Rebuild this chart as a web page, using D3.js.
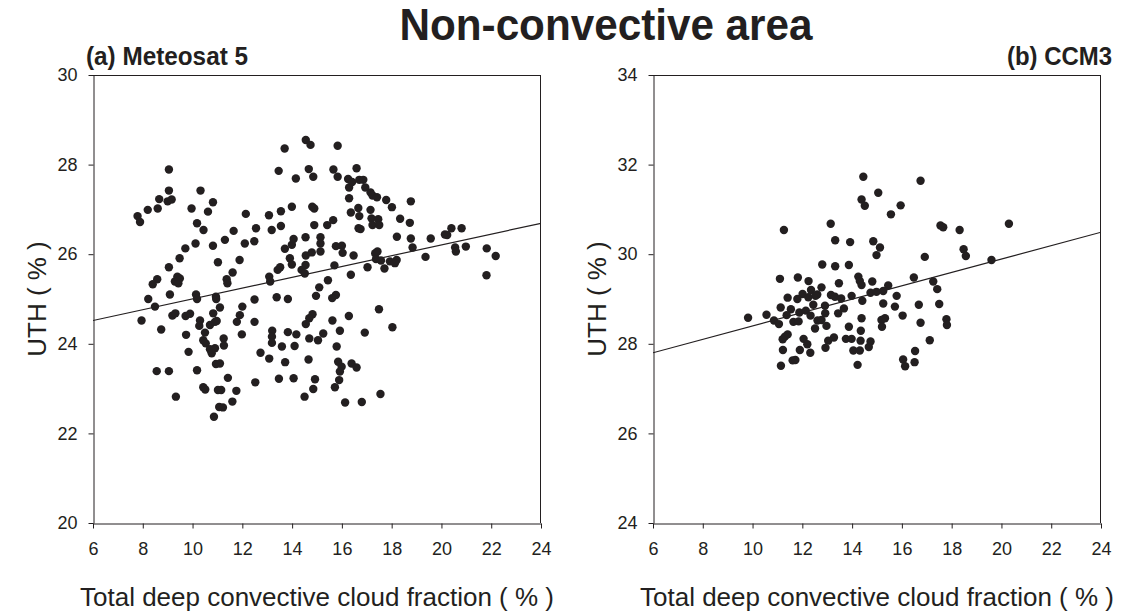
<!DOCTYPE html>
<html><head><meta charset="utf-8">
<script src="https://cdn.jsdelivr.net/npm/d3@7"></script>
<style>
body{margin:0;background:#fff}
text{font-family:"Liberation Sans",Arial,Helvetica,sans-serif;fill:#231f20}
</style>
</head><body>
<svg id="c" width="1123" height="613"></svg>
<script>
const chartTitle = "Non-convective area";
const panelLabels = ["(a) Meteosat 5", "(b) CCM3"];
const xTitle = "Total deep convective cloud fraction ( % )";
const yTitle = "UTH ( % )";
const xTicks = [6, 8, 10, 12, 14, 16, 18, 20, 22, 24];
const yTicksA = [20, 22, 24, 26, 28, 30];
const yTicksB = [24, 26, 28, 30, 32, 34];

const meteosatPoints = [
[9.05,27.89],[7.79,26.85],[7.89,26.72],[8.20,26.99],[8.60,27.02],[8.66,27.23],[9.05,27.42],[9.00,27.18],[9.16,27.22],[9.96,27.02],
[10.32,27.42],[10.82,27.16],[10.62,26.95],[10.18,26.69],[10.44,26.54],[12.14,26.90],[13.07,26.87],[13.55,26.96],[13.99,27.06],[13.70,28.36],
[13.46,27.86],[14.15,27.69],[13.55,26.63],[13.18,26.54],[12.55,26.58],[11.65,26.52],[11.30,26.32],[12.10,26.24],[12.48,26.29],[10.82,26.19],
[10.12,26.24],[9.71,26.13],[9.48,25.91],[9.05,25.71],[8.58,25.44],[8.40,25.33],[9.29,25.39],[9.49,25.46],[9.43,25.35],[9.39,25.50],
[11.02,25.82],[11.37,25.44],[11.40,25.35],[11.61,25.59],[11.89,25.87],[13.08,25.50],[13.12,25.39],[13.42,25.65],[13.52,25.71],[13.71,26.12],
[13.99,26.21],[14.06,26.34],[13.91,25.91],[13.99,25.77],
[14.55,28.55],[14.74,28.44],[15.83,28.42],[14.67,27.90],[14.85,27.73],[15.66,27.89],[15.83,27.73],[16.59,27.92],[16.25,27.68],[16.29,27.49],
[16.41,27.61],[16.70,27.66],[16.86,27.66],[16.94,27.49],[17.15,27.38],[17.23,27.31],[17.41,27.27],[17.78,27.21],[18.01,27.05],[18.77,27.18],
[16.29,27.25],[16.36,26.93],[16.66,27.03],[16.70,26.85],[17.15,26.99],[17.19,26.80],[17.46,26.78],[17.23,26.65],[17.50,26.65],[16.67,26.58],
[16.75,26.56],[14.81,27.06],[14.89,27.02],[14.89,26.65],[15.41,26.65],[15.65,26.76],[14.54,26.38],[15.14,26.38],[15.14,26.24],[15.76,26.18],
[16.00,26.19],[16.03,26.03],[16.47,25.97],[14.55,25.97],[14.79,26.04],[15.14,26.06],[14.54,25.76],[14.38,25.65],[14.51,25.57],[15.70,25.75],
[17.34,26.02],[17.43,26.06],[17.37,25.89],[17.57,25.86],[17.93,25.84],[18.13,25.80],[18.20,25.87],[17.71,25.68],[17.03,25.71],[16.36,25.54],
[15.44,25.42],[15.09,25.26],[14.96,25.07],[15.76,25.09],[15.61,25.02],[18.34,26.79],[18.73,26.70],[18.21,26.39],[18.77,26.35],[18.84,26.15],
[19.36,25.94],[19.57,26.35],[20.14,26.44],[20.23,26.43],[20.40,26.58],[20.81,26.58],[20.55,26.15],[20.58,26.06],[20.98,26.17],[21.82,26.13],
[22.18,25.96],[21.81,25.53],
[8.22,25.00],[9.09,25.10],[10.14,25.10],[10.18,25.00],[10.94,25.05],[10.95,25.00],[8.49,24.83],[7.95,24.52],[8.74,24.32],[9.19,24.63],
[9.31,24.68],[9.72,24.62],[9.90,24.67],[10.30,24.52],[10.27,24.40],[10.50,24.25],[10.83,24.68],[10.70,24.42],[10.90,24.49],[11.10,24.81],
[10.97,24.51],[9.74,24.20],[10.43,24.08],[10.53,24.01],[9.84,23.82],[10.70,23.88],[10.90,23.90],[10.77,23.79],[11.25,24.12],[11.26,23.96],
[12.00,24.83],[11.90,24.64],[11.78,24.49],[11.98,24.21],[12.49,24.99],[12.49,24.49],[13.38,25.04],[13.83,25.00],[13.20,24.29],[13.19,24.16],
[13.19,24.02],[13.83,24.26],[14.17,24.21],[13.59,23.94],[14.10,23.95],[12.73,23.80],[13.08,23.67],[13.72,23.59],[8.56,23.39],[9.05,23.39],
[10.18,23.41],[10.94,23.55],[11.10,23.56],[11.42,23.24],[12.52,23.14],[13.47,23.22],[14.06,23.23],[9.33,22.82],[10.43,23.03],[10.51,22.98],
[11.02,22.97],[11.15,22.97],[11.76,22.95],[11.60,22.71],[11.07,22.59],[11.22,22.58],[10.86,22.37],
[14.82,24.66],[14.69,24.57],[14.55,24.44],[15.62,24.52],[16.28,24.62],[17.49,24.77],[15.92,24.29],[15.25,24.23],[14.69,24.12],[15.04,24.08],
[16.92,24.25],[18.03,24.37],[15.79,23.94],[14.66,23.65],[15.85,23.60],[15.99,23.49],[15.92,23.38],[16.39,23.56],[16.59,23.47],[14.92,23.21],
[14.85,22.99],[15.89,23.19],[15.72,23.03],[14.50,22.82],[16.13,22.69],[16.80,22.70],[17.55,22.88]
];

const ccm3Points = [
[11.26,30.54],[11.10,29.45],[11.82,29.48],[12.25,29.40],[12.35,29.20],[12.01,29.11],[11.41,29.03],[11.80,29.00],[12.24,29.04],[12.60,29.10],
[12.53,29.07],[12.44,28.87],[11.13,28.81],[11.54,28.77],[11.88,28.70],[12.14,28.74],[11.37,28.64],[12.33,28.63],[10.56,28.65],[9.82,28.58],
[10.86,28.52],[11.06,28.44],[11.64,28.49],[11.85,28.50],[12.61,28.52],[12.51,28.34],[11.41,28.21],[11.30,28.16],[11.21,28.10],[12.05,28.11],
[12.20,27.99],[11.22,27.86],[11.90,27.86],[12.32,27.80],[11.61,27.63],[11.72,27.64],[11.14,27.51],
[14.45,31.73],[16.75,31.64],[15.05,31.37],[14.38,31.22],[14.51,31.08],[15.95,31.09],[15.56,30.89],[13.14,30.68],[17.55,30.64],[17.66,30.60],
[18.32,30.54],[20.30,30.68],[13.32,30.31],[13.92,30.27],[14.85,30.29],[15.12,30.15],[14.98,29.98],[16.92,29.94],[18.48,30.11],[18.57,29.96],
[19.60,29.87],[12.80,29.77],[13.32,29.73],[13.87,29.76],[13.47,29.35],[14.25,29.50],[14.31,29.40],[14.38,29.31],[14.81,29.39],[15.45,29.30],
[16.48,29.48],[17.26,29.39],[17.42,29.22],[12.77,29.26],[13.15,29.09],[13.31,29.05],[13.56,29.01],[13.98,29.07],[14.41,28.96],[14.74,29.14],
[14.98,29.16],[15.25,29.18],[15.79,29.07],[12.91,28.85],[12.92,28.68],[13.44,28.68],[13.67,28.79],[15.25,28.90],[15.72,28.83],[16.68,28.87],
[17.50,28.89],[16.03,28.63],[12.77,28.53],[12.97,28.40],[14.38,28.57],[15.18,28.53],[15.32,28.57],[15.20,28.38],[16.75,28.47],[17.79,28.55],
[17.81,28.42],[13.87,28.38],[14.35,28.29],[13.27,28.14],[13.04,28.07],[13.75,28.11],[13.98,28.11],[14.34,28.07],[14.74,28.05],[14.67,27.93],
[12.93,27.91],[14.05,27.85],[14.31,27.85],[17.12,28.08],[16.53,27.84],[16.05,27.65],[16.13,27.50],[16.51,27.59],[14.22,27.53]
];

const fitA = [[6, 24.52], [24, 26.69]];
const fitB = [[6, 27.80], [24, 30.49]];

const svg = d3.select("#c");
const ink = "#231f20";

svg.append("text").attr("x", 606).attr("y", 40).attr("text-anchor", "middle")
  .attr("textLength", 413).attr("lengthAdjust", "spacingAndGlyphs")
  .style("font-size", "45px").style("font-weight", "bold").text(chartTitle);

function panel(x0, yDomain, yTicks, pts, fit, label, labelLeft) {
  const W = 448, top = 75, bottom = 523;
  const x = d3.scaleLinear().domain([6, 24]).range([x0, x0 + W]);
  const y = d3.scaleLinear().domain(yDomain).range([bottom, top]);
  const g = svg.append("g");

  g.append("line").attr("x1", x0).attr("x2", x0 + W).attr("y1", top + 0.5).attr("y2", top + 0.5)
    .attr("stroke", ink).attr("stroke-width", 1);
  g.append("line").attr("x1", x0 + W - 0.5).attr("x2", x0 + W - 0.5).attr("y1", top).attr("y2", bottom)
    .attr("stroke", ink).attr("stroke-width", 1);

  const ya = g.append("g").attr("transform", `translate(${x0 + 0.5},0)`)
    .call(d3.axisLeft(y).tickValues(yTicks).tickSize(5).tickSizeOuter(0).tickPadding(11).tickFormat(d3.format("d")));
  const xa = g.append("g").attr("transform", `translate(0,${bottom + 0.5})`)
    .call(d3.axisBottom(x).tickValues(xTicks).tickSize(5).tickSizeOuter(0).tickPadding(14).tickFormat(d3.format("d")));
  [ya, xa].forEach(a => {
    a.selectAll("path,line").attr("stroke", ink).attr("stroke-width", 1);
    a.selectAll("text").style("font-size", "18px").attr("fill", ink)
      .style("font-family", '"Liberation Sans", Arial, sans-serif');
  });

  const clipId = "clip" + x0;
  svg.append("clipPath").attr("id", clipId).append("rect")
    .attr("x", x0).attr("y", top).attr("width", W).attr("height", bottom - top);

  g.append("path").datum(fit).attr("clip-path", `url(#${clipId})`)
    .attr("d", d3.line().x(d => x(d[0])).y(d => y(d[1])))
    .attr("fill", "none").attr("stroke", ink).attr("stroke-width", 1.2);

  g.append("g").selectAll("circle").data(pts).join("circle")
    .attr("cx", d => x(d[0])).attr("cy", d => y(d[1])).attr("r", 4.2).attr("fill", ink);

  if (labelLeft) {
    g.append("text").attr("x", x0 - 7).attr("y", 65)
      .attr("textLength", 162).attr("lengthAdjust", "spacingAndGlyphs")
      .style("font-size", "26px").style("font-weight", "bold").text(label);
  } else {
    g.append("text").attr("x", x0 + W + 11 - 105).attr("y", 65)
      .attr("textLength", 105).attr("lengthAdjust", "spacingAndGlyphs")
      .style("font-size", "26px").style("font-weight", "bold").text(label);
  }
  g.append("text").attr("x", x0 + W / 2).attr("y", 606).attr("text-anchor", "middle")
    .style("font-size", "26px").text(xTitle);
  g.append("text").attr("transform", `translate(${x0 - 47},${(top + bottom) / 2}) rotate(-90)`)
    .attr("text-anchor", "middle").style("font-size", "26px").text(yTitle);
}

panel(93, [20, 30], yTicksA, meteosatPoints, fitA, panelLabels[0], true);
panel(653, [24, 34], yTicksB, ccm3Points, fitB, panelLabels[1], false);
</script>
</body></html>
